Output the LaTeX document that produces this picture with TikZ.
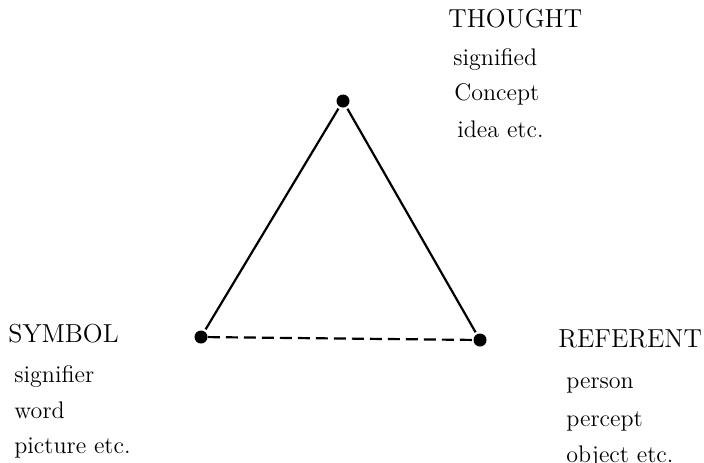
\documentclass[tikz,border=0pt]{standalone}
\usepackage{tikz}
\usetikzlibrary{positioning}

\begin{document}
\begin{tikzpicture}[
  x=0.5pt, y=-0.5pt,
  dot/.style={circle, fill=black, inner sep=0pt, minimum size=6.5pt},
  side/.style={line width=1.1pt, shorten <=1pt, shorten >=1pt},
  title/.style={anchor=base west, inner sep=0pt, font=\fontsize{13}{15}\selectfont},
  item/.style={anchor=base west, inner sep=0pt, font=\fontsize{12}{14}\selectfont}
]
  \useasboundingbox (0,0) rectangle (704,462);

  \node[dot] (thought) at (343,101) {};
  \node[dot] (symbol) at (201,337) {};
  \node[dot] (referent) at (480,340) {};

  \draw[side] (thought) -- (symbol);
  \draw[side] (thought) -- (referent);
  \draw[line width=1.1pt, dash pattern=on 6pt off 3pt] (symbol) -- (referent);

  \node[title] (thoughttitle) at (448,27) {THOUGHT};
  \node[item] (signified) at (453,65) {signified};
  \node[item] (concept) at (454,100) {Concept};
  \node[item] (idea) at (457,137) {idea etc.};

  \node[title] (symboltitle) at (8,342) {SYMBOL};
  \node[item] (signifier) at (14,382) {signifier};
  \node[item] (word) at (14,418) {word};
  \node[item] (picture) at (14,453) {picture etc.};

  \node[title] (referenttitle) at (558,347) {REFERENT};
  \node[item] (person) at (566,388) {person};
  \node[item] (percept) at (566,426) {percept};
  \node[item] (object) at (566,462) {object etc.};
\end{tikzpicture}
\end{document}
